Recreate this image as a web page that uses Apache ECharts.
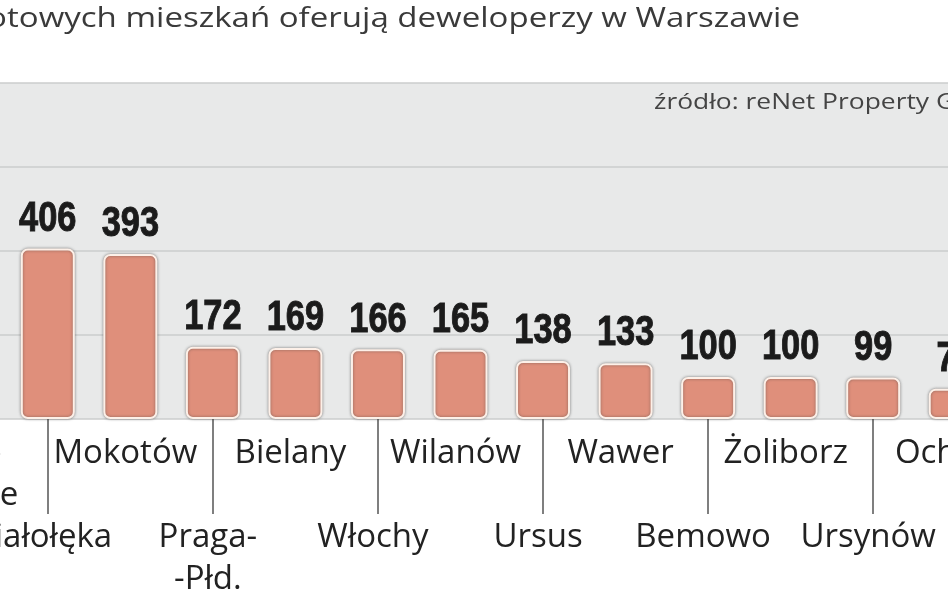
<!DOCTYPE html>
<html>
<head>
<meta charset="utf-8">
<script src="https://cdn.jsdelivr.net/npm/echarts@6/dist/echarts.min.js"></script>
<style>
  html, body { margin: 0; padding: 0; background: #ffffff; overflow: hidden; width: 948px; height: 593px; }
  /* the reference is a crop of a wider graphic: the chart canvas is wider and shifted left, clipped by the frame */
  #frame { position: relative; width: 948px; height: 593px; overflow: hidden; }
  #chart { position: absolute; left: -76px; top: 0; width: 1073px; height: 593px; }
</style>
</head>
<body>
<div id="frame"><div id="chart"></div></div>
<script>
// Districts (the first one lies mostly outside the cropped picture; its value is a guess)
const categories = ['Śródmieście', 'Białołęka', 'Mokotów', 'Praga-Płd.', 'Bielany', 'Włochy', 'Wilanów', 'Ursus', 'Wawer', 'Bemowo', 'Żoliborz', 'Ursynów', 'Ochota'];
const categoryLabels = ['Śród-\nmieście', 'Białołęka', 'Mokotów', 'Praga-\n-Płd.', 'Bielany', 'Włochy', 'Wilanów', 'Ursus', 'Wawer', 'Bemowo', 'Żoliborz', 'Ursynów', 'Ochota'];
const flats = [430, 406, 393, 172, 169, 166, 165, 138, 133, 100, 100, 99, 72];
const yTicks = [0, 200, 400, 600, 800];

const titleText = 'Ile gotowych mieszkań oferują deweloperzy w Warszawie';
const sourceText = 'źródło: reNet Property Group';

const chart = echarts.init(document.getElementById('chart'));
chart.setOption({
  backgroundColor: '#ffffff',
  animation: false,
  graphic: [
    { type: 'text', x: 876, y: 5, scaleX: 1.18,
      style: { text: titleText, font: '28px "Open Sans"', fill: '#3a3a3a', align: 'right', verticalAlign: 'top' } },
    { type: 'text', x: 730, y: 92, scaleX: 1.2,
      style: { text: sourceText, font: '22px "Open Sans"', fill: '#444444', align: 'left', verticalAlign: 'top' } }
  ],
  grid: {
    left: 0, right: 0, top: 83, bottom: 174,
    outerBoundsMode: 'none', containLabel: false,
    show: true, backgroundColor: '#e8e9e9', borderWidth: 0
  },
  xAxis: {
    type: 'category',
    data: categories,
    axisLine: { show: false },
    axisTick: {
      show: true, alignWithLabel: true, length: 95,
      interval: function (i) { return i % 2 === 1; },
      lineStyle: { color: '#555555', width: 1.5 }
    },
    axisLabel: {
      interval: 0, margin: 14, padding: [0, 10, 0, 0],
      fontFamily: 'Open Sans', fontSize: 33, color: '#222222', lineHeight: 42,
      formatter: function (v) {
        const i = categories.indexOf(v);
        return (i % 2 === 1 ? '\n\n' : '') + categoryLabels[i];
      }
    }
  },
  yAxis: {
    type: 'value',
    min: yTicks[0], max: yTicks[yTicks.length - 1], interval: yTicks[1] - yTicks[0],
    axisLine: { show: false }, axisTick: { show: false }, axisLabel: { show: false },
    splitLine: { lineStyle: { color: '#cbcccc', width: 1.5 } }
  },
  series: [{
    type: 'bar',
    data: flats,
    barWidth: 54,
    itemStyle: {
      color: '#df8f7b', borderColor: '#fdf0e8', borderWidth: 2, borderRadius: 6,
      shadowColor: 'rgba(60,60,60,0.55)', shadowBlur: 3
    }
  }, {
    // value labels, condensed bold numbers placed through the axes
    type: 'custom',
    data: flats.map(function (v, i) { return [i, v]; }),
    renderItem: function (params, api) {
      const pt = api.coord([api.value(0), api.value(1)]);
      return {
        type: 'text', x: pt[0], y: pt[1] - 8, scaleX: 0.8,
        style: {
          text: String(api.value(1)),
          font: 'bold 43px "Liberation Sans", Arial, sans-serif',
          fill: '#1b1b1b', stroke: '#1b1b1b', lineWidth: 1,
          align: 'center', verticalAlign: 'bottom'
        }
      };
    },
    z: 5
  }]
});
</script>
</body>
</html>
